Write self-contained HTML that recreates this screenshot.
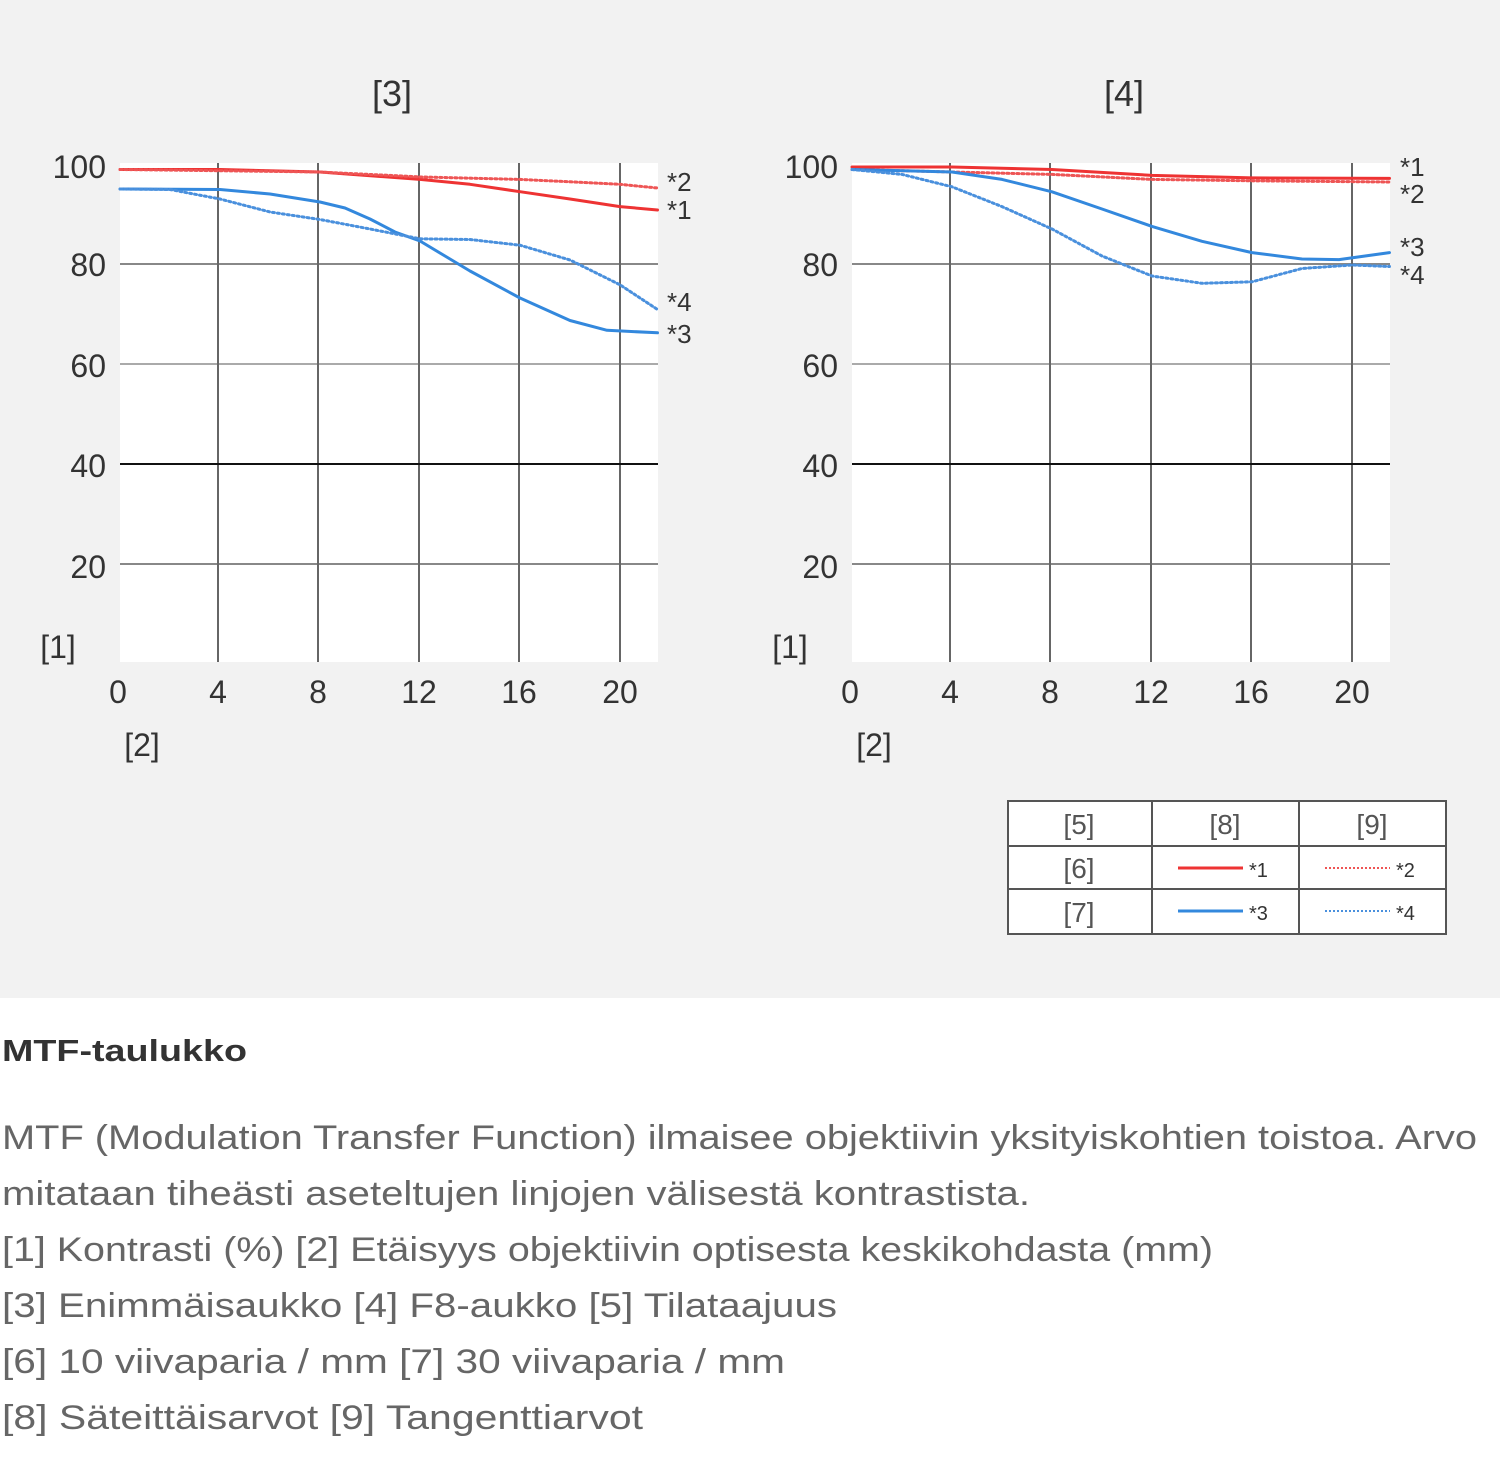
<!DOCTYPE html>
<html><head><meta charset="utf-8"><style>
html,body{margin:0;padding:0;background:#fff}
svg{display:block}
text{font-family:"Liberation Sans",sans-serif}
</style></head><body>
<svg width="1500" height="1457" viewBox="0 0 1500 1457" xmlns="http://www.w3.org/2000/svg">
<rect x="0" y="0" width="1500" height="998" fill="#f2f2f2"/>
<defs>
<g id="grid">
<rect x="120" y="163" width="538" height="499" fill="#fff"/>
<g stroke="#888" stroke-width="2">
<line x1="120" y1="264" x2="658" y2="264"/>
<line x1="120" y1="364" x2="658" y2="364" stroke="#aaa"/>
<line x1="120" y1="564" x2="658" y2="564"/>
<line x1="218" y1="163" x2="218" y2="662" stroke="#666"/>
<line x1="318" y1="163" x2="318" y2="662" stroke="#666"/>
<line x1="419" y1="163" x2="419" y2="662" stroke="#666"/>
<line x1="519" y1="163" x2="519" y2="662" stroke="#666"/>
<line x1="620" y1="163" x2="620" y2="662" stroke="#666"/>
</g>
<line x1="120" y1="464" x2="658" y2="464" stroke="#111" stroke-width="2"/>
<g font-size="32" fill="#333" text-anchor="end">
<text x="106" y="178">100</text><text x="106" y="276">80</text><text x="106" y="377">60</text><text x="106" y="477">40</text><text x="106" y="578">20</text>
</g>
<g font-size="32" fill="#333" text-anchor="middle">
<text x="118" y="703">0</text><text x="218" y="703">4</text><text x="318" y="703">8</text><text x="419" y="703">12</text><text x="519" y="703">16</text><text x="620" y="703">20</text>
<text x="58" y="658">[1]</text><text x="142" y="756">[2]</text>
</g>
</g>
</defs>
<use href="#grid"/>
<use href="#grid" transform="translate(732,0)"/>
<g font-size="36" fill="#333" text-anchor="middle"><text x="392" y="106">[3]</text><text x="1124" y="106">[4]</text></g>
<g fill="none" stroke-width="3" stroke-linejoin="round" stroke-linecap="round">
<polyline stroke="#ee3333" points="120,169.5 220,169.5 320,172 420,179.4 470,184.3 520,191.7 570,199 620,206.6 657.5,210"/>
<polyline stroke="#ee5555" stroke-dasharray="2 3" points="120,169.5 320,172 420,176.9 520,179.4 570,181.8 620,184.3 657.5,188"/>
<polyline stroke="#3388dd" points="120,189 220,189.5 270,194 320,202 345,208 370,219 395,232 420,241 445,256 470,271 520,298 570,320.5 607,330.3 657.5,332.8"/>
<polyline stroke="#4a90dd" stroke-dasharray="2 3" points="120,189 170,189.5 220,199 270,212 320,219.5 370,229 420,238.8 470,239.5 520,245.2 570,260 620,284.8 657.5,309.5"/>
</g>
<g fill="none" stroke-width="3" stroke-linejoin="round" stroke-linecap="round" transform="translate(732,0)">
<polyline stroke="#ee3333" points="120,167 220,167 320,169.5 420,175.4 520,177.9 657.5,178.4"/>
<polyline stroke="#ee5555" stroke-dasharray="2 3" points="120,169.5 320,174.4 420,179.4 520,180.8 657.5,182"/>
<polyline stroke="#3388dd" points="120,169.5 220,172 270,179.4 320,191.8 370,209 420,226.4 470,241.3 520,252.6 570,259 607,259.6 657.5,252.6"/>
<polyline stroke="#4a90dd" stroke-dasharray="2 3" points="120,169.5 170,174.4 220,186.8 270,206.6 320,229 370,256 420,276 470,283.3 520,281.8 570,268.5 620,265 657.5,266.5"/>
</g>
<g font-size="26" fill="#333">
<text x="667" y="191">*2</text><text x="667" y="219">*1</text><text x="667" y="311">*4</text><text x="667" y="343">*3</text>
<text x="1400" y="176">*1</text><text x="1400" y="203">*2</text><text x="1400" y="256">*3</text><text x="1400" y="284">*4</text>
</g>
<g>
<rect x="1008" y="801" width="438" height="133" fill="#fff" stroke="#555" stroke-width="2"/>
<g stroke="#555" stroke-width="2"><line x1="1152" y1="801" x2="1152" y2="934"/><line x1="1299" y1="801" x2="1299" y2="934"/><line x1="1008" y1="846" x2="1446" y2="846"/><line x1="1008" y1="889" x2="1446" y2="889"/></g>
<g font-size="28" fill="#555" text-anchor="middle"><text x="1079" y="834">[5]</text><text x="1225" y="834">[8]</text><text x="1372" y="834">[9]</text><text x="1079" y="878">[6]</text><text x="1079" y="922">[7]</text></g>
<line x1="1178" y1="868" x2="1243" y2="868" stroke="#ee3333" stroke-width="3"/>
<line x1="1325" y1="868" x2="1390" y2="868" stroke="#ee5555" stroke-width="2" stroke-dasharray="2 2"/>
<line x1="1178" y1="911" x2="1243" y2="911" stroke="#3388dd" stroke-width="3"/>
<line x1="1325" y1="911" x2="1390" y2="911" stroke="#4a90dd" stroke-width="2" stroke-dasharray="2 2"/>
<g font-size="20" fill="#333"><text x="1249" y="877">*1</text><text x="1396" y="877">*2</text><text x="1249" y="920">*3</text><text x="1396" y="920">*4</text></g>
</g>
<text x="2" y="1061" font-size="31" font-weight="bold" fill="#333" textLength="245" lengthAdjust="spacingAndGlyphs">MTF-taulukko</text>
<g font-size="34" fill="#666" lengthAdjust="spacingAndGlyphs">
<text x="2" y="1149" textLength="1475" lengthAdjust="spacingAndGlyphs">MTF (Modulation Transfer Function) ilmaisee objektiivin yksityiskohtien toistoa. Arvo</text>
<text x="2" y="1205" textLength="1028" lengthAdjust="spacingAndGlyphs">mitataan tiheästi aseteltujen linjojen välisestä kontrastista.</text>
<text x="2" y="1261" textLength="1211" lengthAdjust="spacingAndGlyphs">[1] Kontrasti (%)  [2] Etäisyys objektiivin optisesta keskikohdasta (mm)</text>
<text x="2" y="1317" textLength="835" lengthAdjust="spacingAndGlyphs">[3] Enimmäisaukko  [4] F8-aukko  [5] Tilataajuus</text>
<text x="2" y="1373" textLength="783" lengthAdjust="spacingAndGlyphs">[6] 10 viivaparia / mm  [7] 30 viivaparia / mm</text>
<text x="2" y="1429" textLength="641" lengthAdjust="spacingAndGlyphs">[8] Säteittäisarvot  [9] Tangenttiarvot</text>
</g>
</svg>
</body></html>
